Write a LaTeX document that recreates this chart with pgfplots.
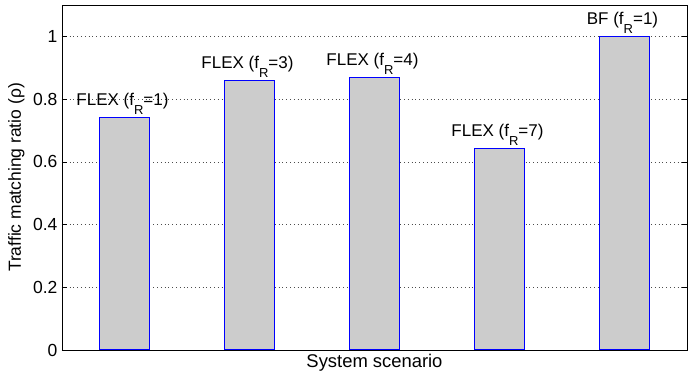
\documentclass[border=0pt]{standalone}
\usepackage{fontspec}
\setmainfont{Liberation Sans}
\usepackage{pgfplots}
\usepackage{pgfplotstable}
\pgfplotsset{compat=1.18}
\definecolor{barfill}{gray}{0.8}
\definecolor{baredge}{rgb}{0,0,1}
% subscript R set low, in the style of the scenario labels
\newcommand{\fR}{f\raisebox{-9pt}{\fontsize{13}{15}\selectfont R}}
\pgfplotstableread[col sep=comma]{
x,y,label
1,0.74,FLEX (\fR=1)
2,0.86,FLEX (\fR=3)
3,0.87,FLEX (\fR=4)
4,0.643,FLEX (\fR=7)
5,1.0,BF (\fR=1)
}\ratios
\begin{document}
\begin{tikzpicture}
\begin{axis}[
  scale only axis,
  width=625pt, height=345pt,
  xmin=0.5, xmax=5.5,
  ymin=0, ymax=1.1,
  ytick={0,0.2,0.4,0.6,0.8,1},
  yticklabels={0,0.2,0.4,0.6,0.8,1},
  xtick=\empty,
  tick align=inside,
  tick style={black, line width=0.6pt},
  major tick length=5pt,
  ymajorgrids,
  grid style={black!70, line width=0.5pt, dash pattern=on 0.8pt off 3pt},
  axis line style={black, line width=0.9pt},
  xlabel={System scenario},
  ylabel={Traffic matching ratio (ρ)},
  xlabel style={at={(axis description cs:0.5,0)}, anchor=north, yshift=-1pt,
    font=\fontsize{18.4}{21}\selectfont},
  ylabel style={at={(axis description cs:0,0.5)}, anchor=south,
    yshift=34pt, font=\fontsize{17.5}{20}\selectfont},
  ticklabel style={font=\fontsize{17.5}{20}\selectfont},
  yticklabel style={xshift=-1pt},
  /pgf/number format/assume math mode=true,
  clip=false,
]
% bar bodies
\addplot[ybar, bar width=50pt, bar shift=0pt, fill=barfill, draw=none]
  table[x=x, y=y] {\ratios};
% bar outlines
\addplot[ybar, bar width=50pt, bar shift=0pt, fill=none, draw=baredge,
  line width=1pt]
  table[x=x, y=y] {\ratios};
% scenario names above the bars
\addplot[draw=none, mark=none,
  nodes near coords={\pgfplotspointmeta},
  point meta=explicit symbolic,
  every node near coord/.style={font=\fontsize{17}{20}\selectfont, text=black,
    anchor=base, yshift=12pt, xshift=-2pt, inner sep=0pt},
] table[x=x, y=y, meta=label] {\ratios};
% margins around the axis box
\path (rel axis cs:0,0) ++(-62pt,-24pt) coordinate (bbsw);
\path (rel axis cs:1,1) ++(4pt,5pt) coordinate (bbne);
\end{axis}
\useasboundingbox (bbsw) rectangle (bbne);
\end{tikzpicture}
\end{document}
